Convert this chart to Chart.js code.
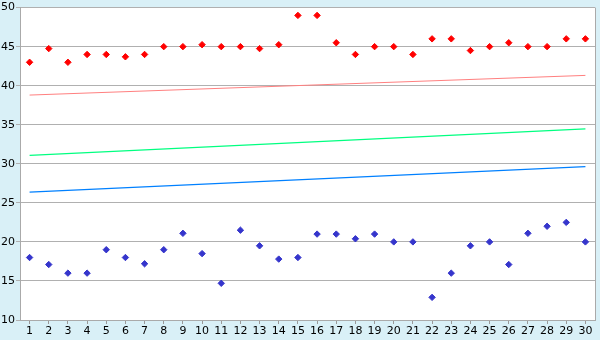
<!DOCTYPE html>
<html>
<head>
<meta charset="utf-8">
<script src="https://cdn.jsdelivr.net/npm/chart.js@4"></script>
<style>
  html, body { margin: 0; padding: 0; background: #d9f0f7; }
  #wrap { width: 600px; height: 340px; }
</style>
</head>
<body>
<div id="wrap"><canvas id="chart" width="600" height="340"></canvas></div>
<script>
// categories 1..30
const labels = ['1','2','3','4','5','6','7','8','9','10','11','12','13','14','15',
                '16','17','18','19','20','21','22','23','24','25','26','27','28','29','30'];

// upper scatter (red)
const redPoints = [43, 44.75, 43, 44, 44, 43.7, 44, 45, 45, 45.25,
                   45, 45, 44.75, 45.25, 49, 49, 45.5, 44, 45, 45,
                   44, 46, 46, 44.5, 45, 45.5, 45, 45, 46, 46];

// lower scatter (blue)
const bluePoints = [18, 17.1, 16, 16, 19, 18, 17.2, 19, 21.1, 18.5,
                    14.7, 21.5, 19.5, 17.8, 18, 21, 21, 20.4, 21, 20,
                    20, 12.9, 16, 19.5, 20, 17.1, 21.1, 22, 22.5, 20];

// straight lines: value at first and last category
const redLine = [38.8, 41.32];
const greenLine = [31.08, 34.47];
const blueLine = [26.38, 29.64];

const yTicks = [10, 15, 20, 25, 30, 35, 40, 45, 50];

function ends(v) {
    return [{ x: labels[0], y: v[0] }, { x: labels[labels.length - 1], y: v[1] }];
}

// white plot area with gray frame
const plotFrame = {
    id: 'plotFrame',
    beforeDraw(chart) {
        const a = chart.chartArea, c = chart.ctx;
        c.save();
        c.fillStyle = '#ffffff';
        c.fillRect(a.left, a.top, a.right - a.left, a.bottom - a.top);
        c.restore();
    },
    afterDraw(chart) {
        const a = chart.chartArea, c = chart.ctx;
        c.save();
        c.strokeStyle = '#aaaaaa';
        c.lineWidth = 1;
        c.beginPath();
        c.moveTo(Math.round(a.right) + 0.5, a.top);
        c.lineTo(Math.round(a.right) + 0.5, a.bottom);
        c.stroke();
        c.restore();
    }
};

const font = { family: 'DejaVu Sans', size: 11 };

new Chart(document.getElementById('chart').getContext('2d'), {
    type: 'line',
    data: {
        labels: labels,
        datasets: [
            { data: ends(redLine), borderColor: '#ff8080', borderWidth: 1, pointRadius: 0, fill: false },
            { data: ends(greenLine), borderColor: '#00ff80', borderWidth: 1.2, pointRadius: 0, fill: false },
            { data: ends(blueLine), borderColor: '#0080ff', borderWidth: 1.2, pointRadius: 0, fill: false },
            { data: redPoints, showLine: false, pointStyle: 'rectRot', pointRadius: 3.2,
              backgroundColor: '#ff0000', borderColor: '#ff0000', borderWidth: 1 },
            { data: bluePoints, showLine: false, pointStyle: 'rectRot', pointRadius: 3.2,
              backgroundColor: '#3535cc', borderColor: '#3535cc', borderWidth: 1 }
        ]
    },
    options: {
        responsive: false,
        animation: false,
        layout: { padding: { top: 5, right: 5, left: 0, bottom: 0 } },
        plugins: { legend: { display: false }, tooltip: { enabled: false } },
        scales: {
            x: {
                type: 'category',
                offset: true,
                grid: { drawOnChartArea: false, drawTicks: true, tickLength: 4, color: '#999999' },
                border: { color: '#aaaaaa' },
                ticks: { color: '#000', font: font, padding: 1, maxRotation: 0, autoSkip: false },
                afterFit(scale) { scale.height = 20; }
            },
            y: {
                min: 10,
                max: 50,
                afterBuildTicks(scale) { scale.ticks = yTicks.map(v => ({ value: v })); },
                grid: { color: '#b0b0b0', tickLength: 4 },
                border: { color: '#aaaaaa' },
                ticks: { color: '#000', font: font, padding: 1 },
                afterFit(scale) { scale.width = 20; }
            }
        }
    },
    plugins: [plotFrame]
});
</script>
</body>
</html>
